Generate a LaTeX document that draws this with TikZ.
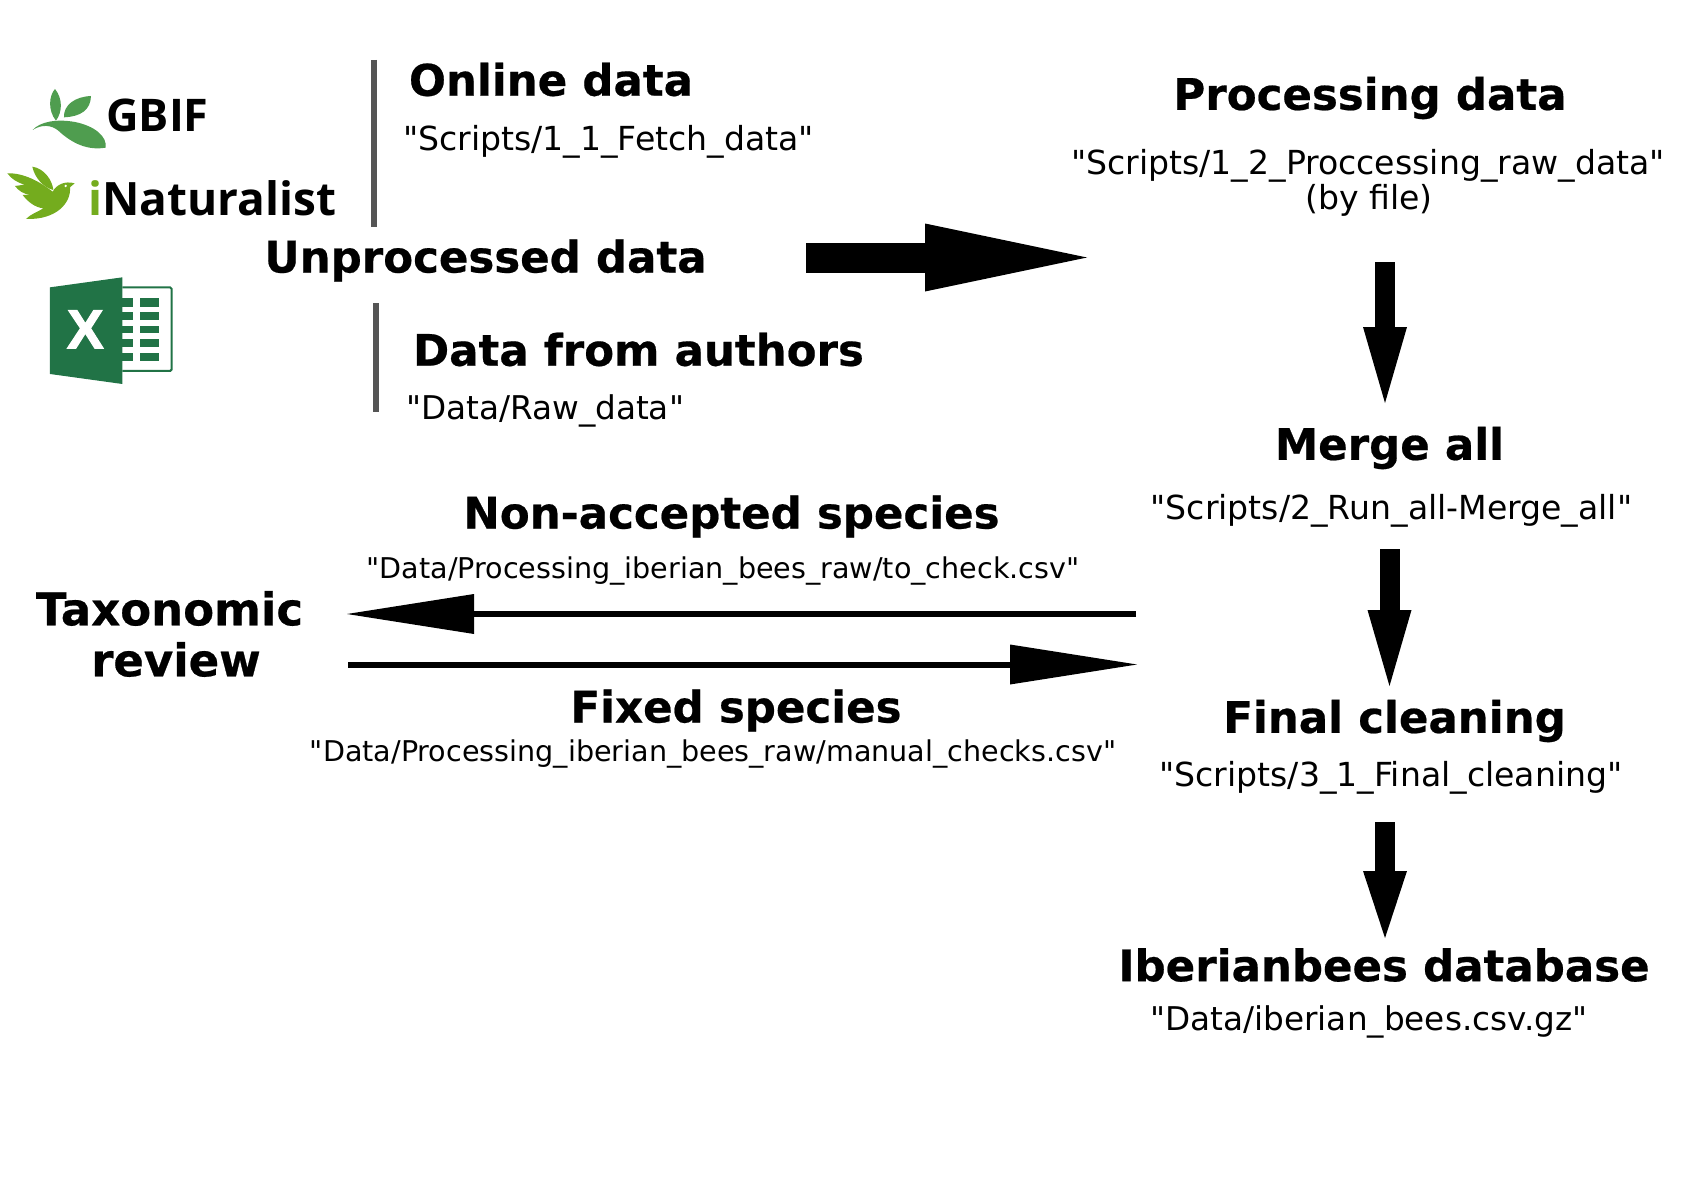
\documentclass[tikz,border=0pt]{standalone}
\usepackage{fontspec}
\setmainfont{DejaVu Sans}
\newfontfamily\pathfont{DejaVu Sans}
\newfontfamily\headfont[BoldFeatures={FakeBold=0.5}]{DejaVu Sans}
\newfontfamily\logofont{Open Sans}
\newfontfamily\xlfont[BoldFeatures={FakeBold=2}]{Liberation Sans}
\usetikzlibrary{arrows.meta}
\definecolor{gbifgreen}{HTML}{4F9D4F}
\definecolor{inatgreen}{HTML}{74AC1E}
\definecolor{xlgreen}{HTML}{217346}
\definecolor{barcol}{HTML}{555555}
\tikzset{
  head/.style={inner sep=0pt,font=\headfont\fontsize{43.5}{50}\selectfont\bfseries},
  bighead/.style={inner sep=0pt,font=\headfont\fontsize{45}{50}\selectfont\bfseries},
  path/.style={inner sep=0pt,font=\pathfont\fontsize{33.1}{40}\selectfont,align=center},
  midpath/.style={inner sep=0pt,font=\pathfont\fontsize{32.7}{40}\selectfont,align=center},
  smallpath/.style={inner sep=0pt,font=\pathfont\fontsize{28.6}{34}\selectfont,align=center},
  flow/.style={line width=20pt,-{Triangle[length=76pt,width=44pt,line width=0pt]}},
  thinflow/.style={line width=6pt,-{Triangle[length=127pt,width=40pt,line width=0pt]}},
  bigflow/.style={line width=30pt,-{Triangle[length=162pt,width=68pt,line width=0pt]}},
  bar/.style={line width=6pt,barcol},
  logotxt/.style={inner sep=0pt,anchor=base west}
}
\begin{document}
\begin{tikzpicture}[x=1pt,y=-1pt]
\useasboundingbox (0,0) rectangle (1682,1188);
% GBIF and iNaturalist marks
\begin{scope}[x=0.3333pt,y=-0.3333pt,yshift=-80pt]
  \fill[gbifgreen] (165,27) .. controls (148,45) and (142,90) .. (168,122) .. controls (188,95) and (188,55) .. (165,27) -- cycle;
  \fill[gbifgreen] (273,48) .. controls (225,50) and (190,75) .. (192,112) .. controls (242,110) and (272,90) .. (273,48) -- cycle;
  \fill[gbifgreen] (98,150) .. controls (120,125) and (170,116) .. (225,126) .. controls (285,138) and (322,170) .. (317,203) .. controls (265,212) and (218,192) .. (175,152) .. controls (155,135) and (125,132) .. (98,150) -- cycle;
  \fill[inatgreen] (97,260) .. controls (132,265) and (157,300) .. (160,330) .. controls (128,322) and (103,290) .. (97,260) -- cycle;
  \fill[inatgreen] (22,280) .. controls (70,278) and (120,305) .. (158,335) .. controls (170,313) and (195,302) .. (224,310) -- (210,322) .. controls (214,368) and (170,420) .. (78,417) .. controls (92,402) and (115,395) .. (130,385) .. controls (105,382) and (85,367) .. (68,345) -- (92,345) .. controls (70,342) and (55,332) .. (45,318) -- (74,314) .. controls (50,307) and (35,297) .. (22,280) -- cycle;
  \fill[white] (197,318) circle (4);
\end{scope}
% Excel mark
\begin{scope}[x=0.3333pt,y=-0.3333pt,xshift=40pt,yshift=-270pt]
  \fill[xlgreen] (30,52) -- (247,22) -- (247,342) -- (30,312) -- cycle;
  \draw[xlgreen,line width=2pt,rounded corners=1.5pt] (247,52) -- (395,52) -- (395,303) -- (247,303);
  \foreach \ya/\yb in {85/110,127/150,168/190,208/232,250/272}{
    \fill[xlgreen] (247,\ya) rectangle (280,\yb);
    \fill[xlgreen] (300,\ya) rectangle (358,\yb);
  }
\end{scope}
\node[inner sep=0pt,text=white,font=\xlfont\fontsize{55}{55}\selectfont\bfseries] (xl) at (85.3,329.3) {X};
\node[logotxt,font=\logofont\fontsize{45}{45}\selectfont\bfseries] (gbif) at (106,132) {GBIF};
\node[logotxt,font=\logofont\fontsize{46}{46}\selectfont\bfseries] (inat) at (88,215) {\textcolor{inatgreen}{i}Naturalist};
% bars
\coordinate (b1a) at (374,60); \coordinate (b1b) at (374,227);
\coordinate (b2a) at (376,303); \coordinate (b2b) at (376,412);
\draw[bar] (b1a) -- (b1b);
\draw[bar] (b2a) -- (b2b);
% text
\node[head] (online) at (551,79.5) {Online data};
\node[path] (onlinep) at (608.5,142) {"Scripts/1\_1\_Fetch\_data"};
\node[head] (unproc) at (485.5,260.5) {Unprocessed data};
\node[head] (authors) at (638.5,349.5) {Data from authors};
\node[midpath] (authorsp) at (545,411) {"Data/Raw\_data"};
\node[head] (proc) at (1370,98) {Processing data};
\node[path] (procp) at (1368,165.5) {"Scripts/1\_2\_Proccessing\_raw\_data"};
\node[path] (procq) at (1369,200.5) {(by file)};
\node[head] (merge) at (1389.5,448) {Merge all};
\node[path] (mergep) at (1391.5,511) {"Scripts/2\_Run\_all-Merge\_all"};
\node[head] (nonacc) at (731.5,516.5) {Non-accepted species};
\node[smallpath] (nonaccp) at (723,571) {"Data/Processing\_iberian\_bees\_raw/to\_check.csv"};
\node[bighead] (tax1) at (169.5,608.5) {Taxonomic};
\node[bighead] (tax2) at (176,659.5) {review};
\node[head] (fixed) at (736,710.5) {Fixed species};
\node[smallpath] (fixedp) at (713,754.5) {"Data/Processing\_iberian\_bees\_raw/manual\_checks.csv"};
\node[head] (final) at (1394.5,721) {Final cleaning};
\node[path] (finalp) at (1391,778) {"Scripts/3\_1\_Final\_cleaning"};
\node[head] (db) at (1384,965) {Iberianbees database};
\node[midpath] (dbp) at (1369,1022) {"Data/iberian\_bees.csv.gz"};
% arrows
\coordinate (a1) at (806,257.5); \coordinate (a2) at (1087,257.5);
\draw[bigflow] (a1) -- (a2);
\coordinate (d1a) at (1385,262); \coordinate (d1b) at (1385,403);
\draw[flow] (d1a) -- (d1b);
\coordinate (d2a) at (1389.5,549); \coordinate (d2b) at (1389.5,686);
\draw[flow] (d2a) -- (d2b);
\coordinate (d3a) at (1385,822); \coordinate (d3b) at (1385,938);
\draw[flow,-{Triangle[length=67pt,width=44pt,line width=0pt]}] (d3a) -- (d3b);
\coordinate (l1) at (1136,614); \coordinate (l2) at (347,614);
\draw[thinflow] (l1) -- (l2);
\coordinate (r1) at (348,664.5); \coordinate (r2) at (1137,664.5);
\draw[thinflow] (r1) -- (r2);
\end{tikzpicture}
\end{document}
